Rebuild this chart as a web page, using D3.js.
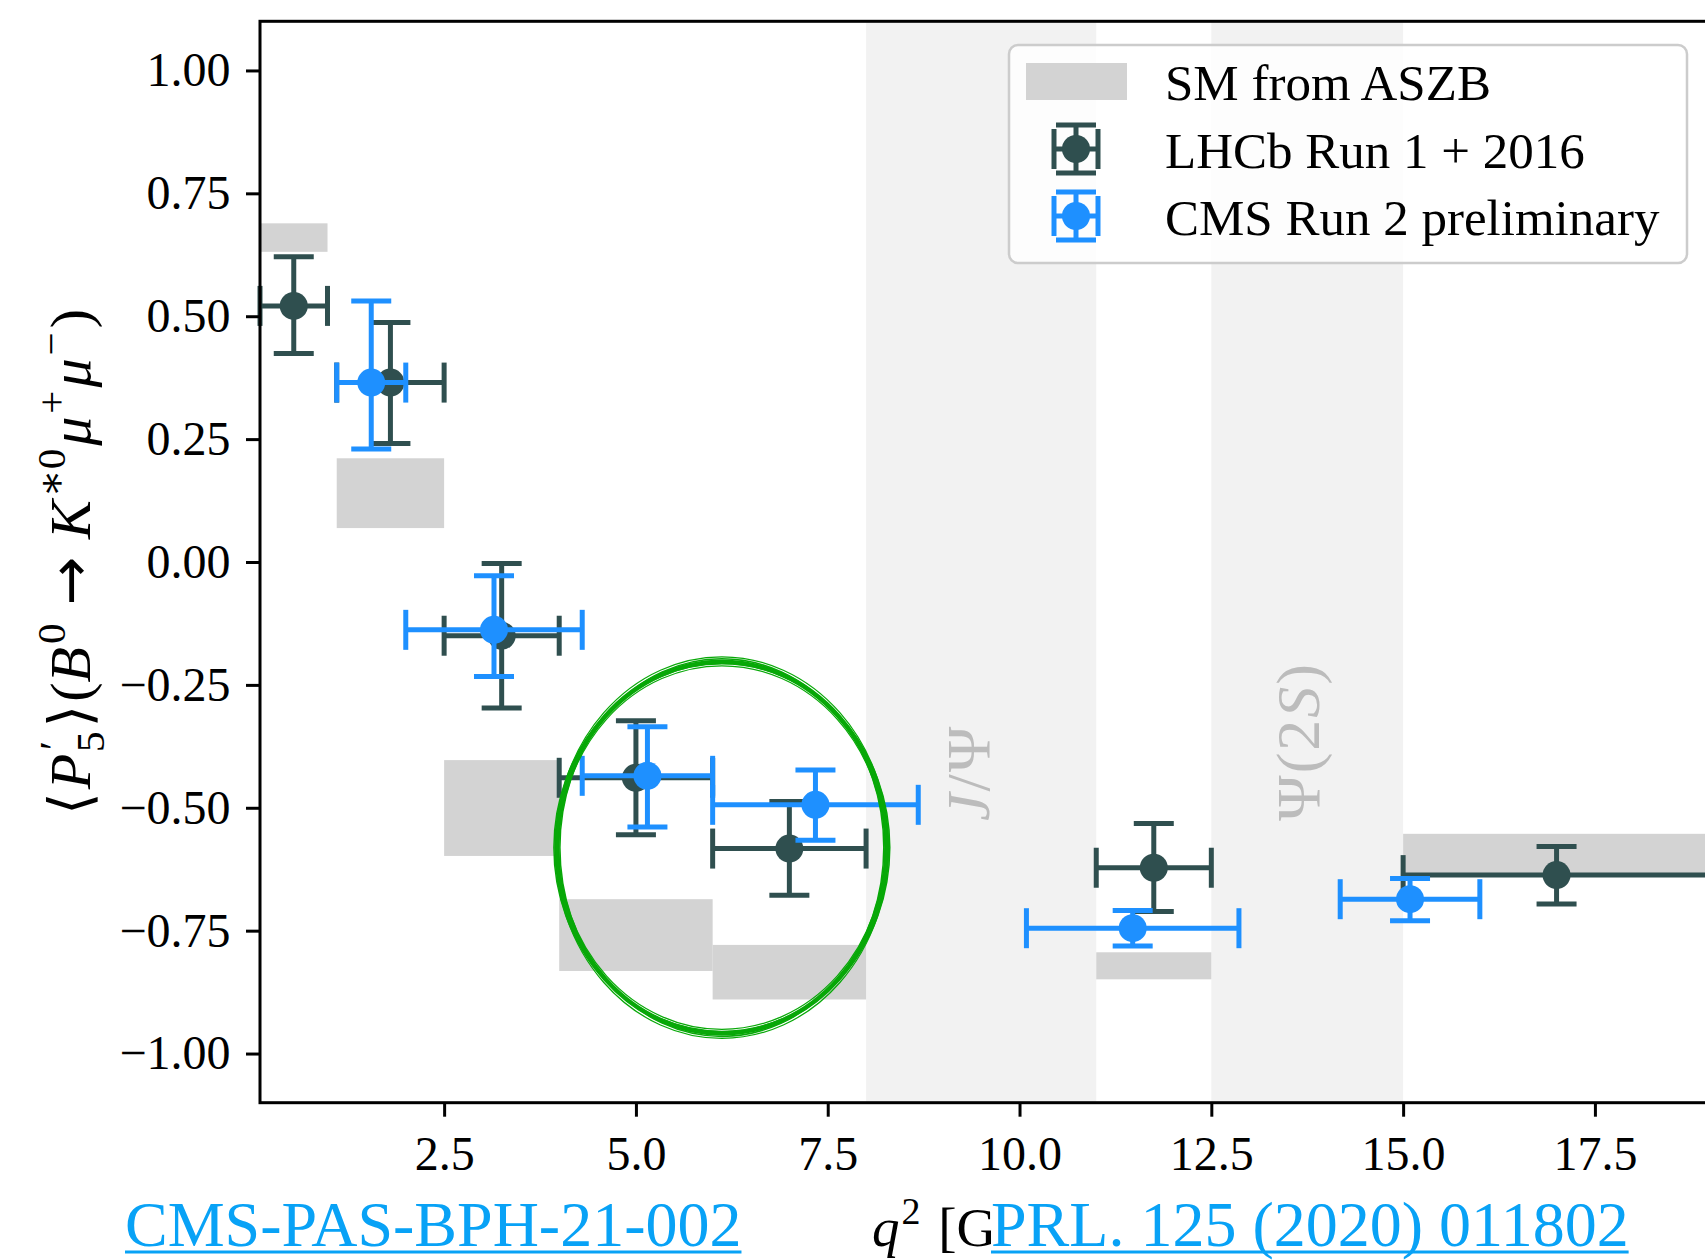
<!DOCTYPE html>
<html>
<head>
<meta charset="utf-8">
<script src="https://cdn.jsdelivr.net/npm/d3@7"></script>
<style>
  html, body { margin: 0; padding: 0; background: #fff; }
  svg { display: block; }
  text { font-family: "Liberation Serif", "DejaVu Serif", serif; }
</style>
</head>
<body>
<div id="chart"></div>
<script>
// SM prediction boxes (ASZB)
const smLo  = [0.1, 1.1, 2.5, 4.0, 6.0, 11.0, 15.0];
const smHi  = [0.98, 2.5, 4.0, 6.0, 8.0, 12.5, 19.0];
const smMin = [0.631, 0.069, -0.598, -0.832, -0.890, -0.849, -0.636];
const smMax = [0.689, 0.211, -0.403, -0.686, -0.779, -0.794, -0.553];

// LHCb Run 1 + 2016
const lhcbLo = [0.1, 1.1, 2.5, 4.0, 6.0, 11.0, 15.0];
const lhcbHi = [0.98, 2.5, 4.0, 6.0, 8.0, 12.5, 19.0];
const lhcbX  = [0.54, 1.8, 3.25, 5.0, 7.0, 11.75, 17.0];
const lhcbY  = [0.521, 0.365, -0.150, -0.439, -0.583, -0.622, -0.637];
const lhcbUp = [0.100, 0.122, 0.147, 0.116, 0.096, 0.090, 0.058];
const lhcbDn = [0.097, 0.124, 0.147, 0.116, 0.095, 0.089, 0.059];

// CMS Run 2 preliminary
const cmsLo = [1.1, 2.0, 4.3, 6.0, 10.09, 14.18];
const cmsHi = [2.0, 4.3, 6.0, 8.68, 12.86, 16.0];
const cmsX  = [1.55, 3.15, 5.15, 7.34, 11.475, 15.09];
const cmsY  = [0.365, -0.138, -0.435, -0.494, -0.745, -0.686];
const cmsUp = [0.166, 0.110, 0.100, 0.071, 0.036, 0.042];
const cmsDn = [0.135, 0.095, 0.104, 0.072, 0.036, 0.044];

// charmonium vetoes
const vetoLo = [8.0, 12.5];
const vetoHi = [11.0, 15.0];
const vetoLabel = ["J/Ψ", "Ψ(2S)"];
const vetoLabelX = [9.6, 13.9];
const vetoLabelY = -0.527;

const yTicks = [-1.0, -0.75, -0.5, -0.25, 0.0, 0.25, 0.5, 0.75, 1.0];
const xTicks = [2.5, 5.0, 7.5, 10.0, 12.5, 15.0, 17.5];

// hand drawn ring (data units)
const ringCx = 6.12, ringCy = -0.581, ringRx = 2.15, ringRy = 0.378;

const width = 1705, height = 1260;
const marginLeft = 260, marginTop = 21.3, marginBottom = 157.3, plotRight = 1710;

const lhcbColor = "#2f4f4f", cmsColor = "#1e90ff", smColor = "#d3d3d3";
const linkColor = "#08a2f6";

const x = d3.scaleLinear().domain([0.1, 19]).range([marginLeft, plotRight]);
const y = d3.scaleLinear().domain([-1.1, 1.1]).range([height - marginBottom, marginTop]);

const svg = d3.select("#chart").append("svg")
  .attr("width", width).attr("height", height)
  .attr("viewBox", [0, 0, width, height]);

svg.append("rect").attr("width", width).attr("height", height).attr("fill", "#fff");

const plot = svg.append("g");

// veto bands
plot.selectAll(".veto").data(vetoLo).join("rect")
  .attr("x", (d, i) => x(d))
  .attr("width", (d, i) => x(vetoHi[i]) - x(d))
  .attr("y", y(1.1)).attr("height", y(-1.1) - y(1.1))
  .attr("fill", "#f2f2f2");

vetoLabel.forEach((lab, i) => {
  const t = plot.append("text")
    .attr("transform", `translate(${x(vetoLabelX[i])},${y(vetoLabelY)}) rotate(-90)`)
    .attr("font-size", 62).attr("letter-spacing", 2).attr("fill", "#bcbcbc");
  if (i === 0) {
    t.append("tspan").attr("font-style", "italic").text("J");
    t.append("tspan").text("/Ψ");
  } else {
    t.append("tspan").text("Ψ(2");
    t.append("tspan").attr("font-style", "italic").text("S");
    t.append("tspan").text(")");
  }
});

// SM boxes
plot.selectAll(".sm").data(smLo).join("rect")
  .attr("x", (d) => x(d))
  .attr("width", (d, i) => x(smHi[i]) - x(d))
  .attr("y", (d, i) => y(smMax[i]))
  .attr("height", (d, i) => y(smMin[i]) - y(smMax[i]))
  .attr("fill", smColor);

// error bars
const lw = 5, cap = 20, dotR = 14;
function errorbar(g, cx, cy, x0, x1, y0, y1, color) {
  g.append("line").attr("x1", x0).attr("x2", x1).attr("y1", cy).attr("y2", cy)
    .attr("stroke", color).attr("stroke-width", lw);
  g.append("line").attr("x1", cx).attr("x2", cx).attr("y1", y0).attr("y2", y1)
    .attr("stroke", color).attr("stroke-width", lw);
  [x0, x1].forEach(xx => g.append("line").attr("x1", xx).attr("x2", xx)
    .attr("y1", cy - cap).attr("y2", cy + cap).attr("stroke", color).attr("stroke-width", lw));
  [y0, y1].forEach(yy => g.append("line").attr("y1", yy).attr("y2", yy)
    .attr("x1", cx - cap).attr("x2", cx + cap).attr("stroke", color).attr("stroke-width", lw));
  g.append("circle").attr("cx", cx).attr("cy", cy).attr("r", dotR).attr("fill", color);
}

const gl = plot.append("g");
lhcbX.forEach((d, i) => errorbar(gl, x(d), y(lhcbY[i]), x(lhcbLo[i]), x(lhcbHi[i]),
  y(lhcbY[i] + lhcbUp[i]), y(lhcbY[i] - lhcbDn[i]), lhcbColor));
const gc = plot.append("g");
cmsX.forEach((d, i) => errorbar(gc, x(d), y(cmsY[i]), x(cmsLo[i]), x(cmsHi[i]),
  y(cmsY[i] + cmsUp[i]), y(cmsY[i] - cmsDn[i]), cmsColor));

// axes
const yAxis = svg.append("g").attr("transform", `translate(${marginLeft},0)`)
  .call(d3.axisLeft(y).tickValues(yTicks).tickFormat(d3.format(".2f")).tickSize(14).tickPadding(15.5));
const xAxis = svg.append("g").attr("transform", `translate(0,${height - marginBottom})`)
  .call(d3.axisBottom(x).tickValues(xTicks).tickFormat(d3.format(".1f")).tickSize(14).tickPadding(19));
[yAxis, xAxis].forEach(a => {
  a.select(".domain").remove();
  a.selectAll(".tick line").attr("stroke", "#000").attr("stroke-width", 3);
  a.selectAll(".tick text").attr("font-family", "Liberation Serif").attr("font-size", 48).attr("fill", "#000");
});

// frame
svg.append("rect")
  .attr("x", marginLeft).attr("y", marginTop)
  .attr("width", plotRight - marginLeft).attr("height", height - marginBottom - marginTop)
  .attr("fill", "none").attr("stroke", "#000").attr("stroke-width", 3);

// y label
const yl = svg.append("text")
  .attr("transform", `translate(90,${y(0)}) rotate(-90)`)
  .attr("text-anchor", "middle").attr("font-size", 58).attr("fill", "#000");
const sub = 41;
yl.append("tspan").text("⟨");
yl.append("tspan").attr("font-style", "italic").attr("dx", 3).text("P");
yl.append("tspan").attr("font-size", sub).attr("dx", 4).attr("dy", -23).text("′");
yl.append("tspan").attr("font-size", sub).attr("dx", -11).attr("dy", 37).text("5");
yl.append("tspan").attr("dy", -14).attr("dx", 4).text("⟩");
yl.append("tspan").attr("dx", 3).text("(");
yl.append("tspan").attr("font-style", "italic").text("B");
yl.append("tspan").attr("font-size", sub).attr("dx", 3).attr("dy", -25).text("0");
yl.append("tspan").attr("dy", 25).attr("dx", 18).attr("font-family", "DejaVu Sans").text("→");
yl.append("tspan").attr("font-style", "italic").attr("dx", 18).text("K");
yl.append("tspan").attr("font-size", sub).attr("dx", 3).attr("dy", -25).text("∗0");
yl.append("tspan").attr("font-style", "italic").attr("dy", 25).attr("dx", 3).text("μ");
yl.append("tspan").attr("font-size", sub).attr("dx", 3).attr("dy", -25).text("+");
yl.append("tspan").attr("font-style", "italic").attr("dy", 25).attr("dx", 3).text("μ");
yl.append("tspan").attr("font-size", sub).attr("dx", 3).attr("dy", -25).text("−");
yl.append("tspan").attr("dy", 25).attr("dx", 4).text(")");

// x label (partly hidden by the link box, as in the source page)
const xl = svg.append("text")
  .attr("x", 872).attr("y", 1246)
  .attr("font-size", 55).attr("fill", "#000");
xl.append("tspan").attr("font-style", "italic").text("q");
xl.append("tspan").attr("font-size", 38).attr("dx", 2).attr("dy", -22).text("2");
xl.append("tspan").attr("dy", 22).attr("dx", 4).text(" [GeV");
xl.append("tspan").attr("font-size", 38).attr("dy", -22).text("2");
xl.append("tspan").attr("dy", 22).text("]");

// ring annotation
[[0, 0, 4.5], [3, -2, 1.5], [-3, 3, 1.5], [2, 5, 1.2], [-2, -4, 1.2]].forEach(([drx, dry, sw]) => {
  svg.append("ellipse")
    .attr("cx", x(ringCx)).attr("cy", y(ringCy))
    .attr("rx", x(ringCx + ringRx) - x(ringCx) + drx)
    .attr("ry", y(ringCy - ringRy) - y(ringCy) + dry)
    .attr("fill", "none").attr("stroke", "#08a808").attr("stroke-width", sw);
});

// legend
const lg = svg.append("g");
lg.append("rect").attr("x", 1009).attr("y", 45).attr("width", 678).attr("height", 218)
  .attr("rx", 9).attr("fill", "#fff").attr("fill-opacity", 0.8)
  .attr("stroke", "#cccccc").attr("stroke-width", 2.5);
const legItems = ["SM from ASZB", "LHCb Run 1 + 2016", "CMS Run 2 preliminary"];
lg.append("rect").attr("x", 1026).attr("y", 63).attr("width", 101).attr("height", 37).attr("fill", smColor);
errorbar(lg, 1076, 149, 1054, 1098, 125, 173, lhcbColor);
errorbar(lg, 1076, 216, 1054, 1098, 192, 240, cmsColor);
lg.selectAll(".lt").data(legItems).join("text")
  .attr("x", 1165).attr("y", (d, i) => 100 + i * 67.5)
  .attr("font-size", 51).attr("fill", "#000").text(d => d);

// links
function link(txt, x0, bg) {
  const g = svg.append("g");
  const r = g.append("rect").attr("fill", "#fff");
  const t = g.append("text").attr("x", x0).attr("y", 1246).attr("font-size", 64)
    .attr("fill", linkColor).text(txt);
  const w = t.node().getComputedTextLength();
  if (bg) r.attr("x", x0).attr("y", 1196).attr("width", w).attr("height", 64);
  g.append("rect").attr("x", x0).attr("y", 1250.5).attr("width", w).attr("height", 3).attr("fill", linkColor);
}
link("CMS-PAS-BPH-21-002", 125, false);
link("PRL. 125 (2020) 011802", 991, true);
</script>
</body>
</html>
